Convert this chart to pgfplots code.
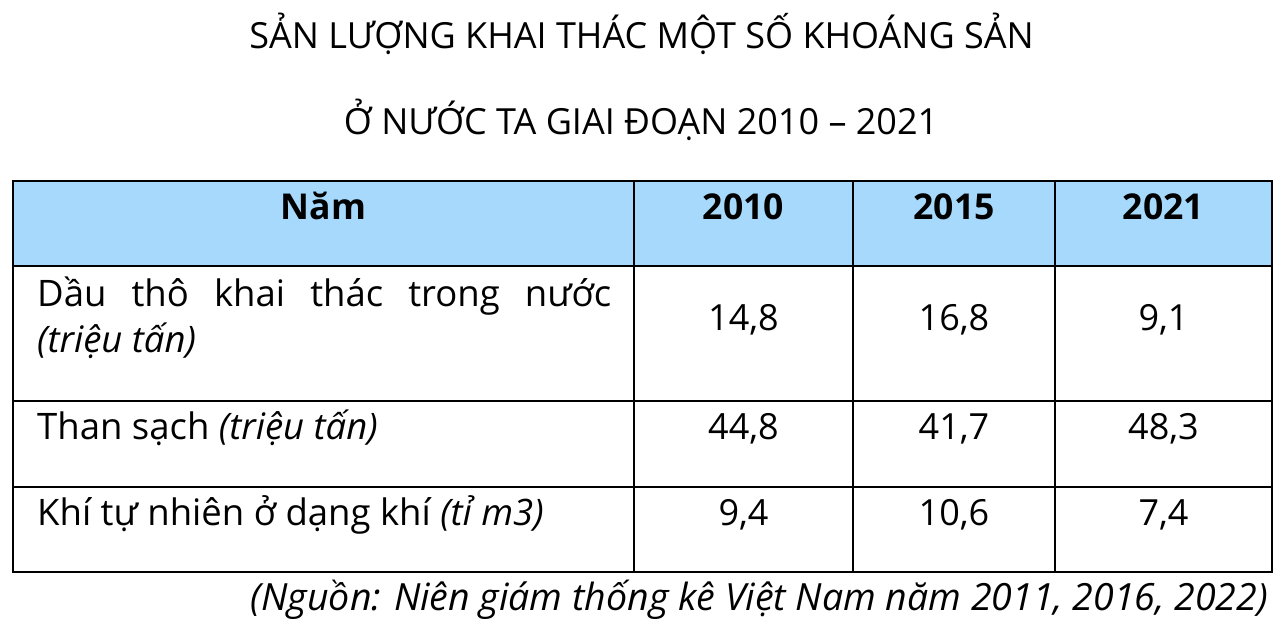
\documentclass[border=0pt]{standalone}
\usepackage{pgfplots}
\pgfplotsset{compat=1.18}
\usepackage{fontspec}
\setmainfont{Open Sans}
\definecolor{hdr}{RGB}{166,217,252}
\begin{document}
\begin{tikzpicture}
\begin{axis}[
  width=1285pt, height=625pt, scale only axis,
  xmin=0, xmax=1285, ymin=0, ymax=625, y dir=reverse,
  hide axis, clip=false,
]
\fill[white] (axis cs:0,0) rectangle (axis cs:1285,625);
\fill[hdr] (axis cs:13,181) rectangle (axis cs:1272,266);
% grid lines
\draw[line width=2pt] (axis cs:13,181) rectangle (axis cs:1272,572);
\draw[line width=2pt] (axis cs:13,266) -- (axis cs:1272,266);
\draw[line width=2pt] (axis cs:13,401) -- (axis cs:1272,401);
\draw[line width=2pt] (axis cs:13,487) -- (axis cs:1272,487);
\draw[line width=2pt] (axis cs:634,181) -- (axis cs:634,572);
\draw[line width=2pt] (axis cs:853,181) -- (axis cs:853,572);
\draw[line width=2pt] (axis cs:1055,181) -- (axis cs:1055,572);
% titles
\node[anchor=base, inner sep=0pt, font=\fontsize{36}{42}\selectfont] at (axis cs:641.5,48) {SẢN LƯỢNG KHAI THÁC MỘT SỐ KHOÁNG SẢN};
\node[anchor=base, inner sep=0pt, font=\fontsize{36}{42}\selectfont] at (axis cs:641,134) {Ở NƯỚC TA GIAI ĐOẠN 2010 – 2021};
% header
\node[anchor=base, inner sep=0pt, font=\fontsize{35.6}{40}\selectfont\bfseries] at (axis cs:323.5,219) {Năm};
\node[anchor=base, inner sep=0pt, font=\fontsize{35.6}{40}\selectfont\bfseries] at (axis cs:743.5,219) {2010};
\node[anchor=base, inner sep=0pt, font=\fontsize{35.6}{40}\selectfont\bfseries] at (axis cs:954,219) {2015};
\node[anchor=base, inner sep=0pt, font=\fontsize{35.6}{40}\selectfont\bfseries] at (axis cs:1163.5,219) {2021};
% body
\node[anchor=base west, inner sep=0pt, font=\fontsize{36.5}{40}\selectfont] at (axis cs:37,306) {\hbox to 574pt{Dầu\hfill thô\hfill khai\hfill thác\hfill trong\hfill nước}};
\node[anchor=base west, inner sep=0pt, font=\fontsize{36.5}{40}\selectfont\itshape] at (axis cs:37,352) {(triệu tấn)};
\node[anchor=base west, inner sep=0pt, font=\fontsize{36.5}{40}\selectfont] at (axis cs:37,439) {Than sạch \textit{(triệu tấn)}};
\node[anchor=base west, inner sep=0pt, font=\fontsize{36.5}{40}\selectfont] at (axis cs:37,525) {Khí tự nhiên ở dạng khí \textit{(tỉ m3)}};
\node[anchor=base, inner sep=0pt, font=\fontsize{36}{40}\selectfont] at (axis cs:743.5,330) {14,8};
\node[anchor=base, inner sep=0pt, font=\fontsize{36}{40}\selectfont] at (axis cs:954,330) {16,8};
\node[anchor=base, inner sep=0pt, font=\fontsize{36}{40}\selectfont] at (axis cs:1163.5,330) {9,1};
\node[anchor=base, inner sep=0pt, font=\fontsize{36}{40}\selectfont] at (axis cs:743.5,439) {44,8};
\node[anchor=base, inner sep=0pt, font=\fontsize{36}{40}\selectfont] at (axis cs:954,439) {41,7};
\node[anchor=base, inner sep=0pt, font=\fontsize{36}{40}\selectfont] at (axis cs:1163.5,439) {48,3};
\node[anchor=base, inner sep=0pt, font=\fontsize{36}{40}\selectfont] at (axis cs:743.5,525) {9,4};
\node[anchor=base, inner sep=0pt, font=\fontsize{36}{40}\selectfont] at (axis cs:954,525) {10,6};
\node[anchor=base, inner sep=0pt, font=\fontsize{36}{40}\selectfont] at (axis cs:1163.5,525) {7,4};
\node[anchor=base east, inner sep=0pt, font=\fontsize{37.5}{40}\selectfont\itshape] at (axis cs:1268,610) {(Nguồn: Niên giám thống kê Việt Nam năm 2011, 2016, 2022)};
\end{axis}
\end{tikzpicture}
\end{document}
